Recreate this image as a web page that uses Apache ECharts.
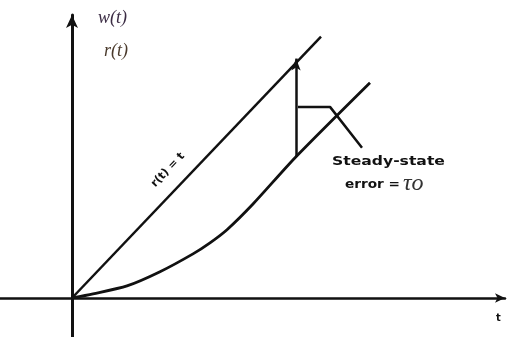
<!DOCTYPE html>
<html>
<head>
<meta charset="utf-8">
<script src="https://cdn.jsdelivr.net/npm/echarts@6/dist/echarts.min.js"></script>
<style>
  html, body { margin: 0; padding: 0; background: #fff; }
  #chart { width: 514px; height: 337px; }
</style>
</head>
<body>
<div id="chart"></div>
<script>
// ramp input r(t) = t
var rampT = [0, 4.98];
// response w(t)
var respT = [0, 0.42, 1.10, 1.76, 2.42, 2.76, 3.10, 3.62, 4.48, 5.96];
var respW = [0, 0.08, 0.23, 0.50, 0.84, 1.05, 1.30, 1.79, 2.69, 4.10];
// steady-state error marker
var errT = 4.48;
var tau0 = 1.79;
// leader line to the annotation
var leaderT = [4.52, 5.16, 5.80];
var leaderY = [3.64, 3.64, 2.86];

var chart = echarts.init(document.getElementById('chart'));

var ink = '#111';

chart.setOption({
    backgroundColor: '#fff',
    animation: false,
    grid: { left: 0, right: 9, top: 15, bottom: 0 },
    xAxis: {
        type: 'value', min: -1.44, max: 8.66,
        axisLine: { onZero: true, symbol: ['none', 'arrow'], symbolSize: [7, 10], lineStyle: { color: ink, width: 2.5 } },
        axisTick: { show: false }, axisLabel: { show: false }, splitLine: { show: false }
    },
    yAxis: {
        type: 'value', min: -0.743, max: 5.39,
        axisLine: { onZero: true, symbol: ['none', 'arrow'], symbolSize: [9, 13], lineStyle: { color: ink, width: 3 } },
        axisTick: { show: false }, axisLabel: { show: false }, splitLine: { show: false }
    },
    series: [
        {
            name: 'r(t)', type: 'line', symbol: 'none',
            data: rampT.map(function (t) { return [t, t]; }),
            lineStyle: { color: ink, width: 2.5 }
        },
        {
            name: 'w(t)', type: 'line', symbol: 'none', smooth: 0.25,
            data: respT.map(function (t, i) { return [t, respW[i]]; }),
            lineStyle: { color: ink, width: 2.8 },
            markLine: {
                silent: true, symbol: ['none', 'arrow'], symbolSize: [7, 12],
                label: { show: false },
                lineStyle: { color: ink, width: 2.5, type: 'solid' },
                data: [[{ coord: [errT, errT - tau0] }, { coord: [errT, errT + 0.08] }]]
            }
        },
        {
            name: 'leader', type: 'line', symbol: 'none',
            data: leaderT.map(function (t, i) { return [t, leaderY[i]]; }),
            lineStyle: { color: ink, width: 2.5 }
        }
    ],
    graphic: [
        { type: 'text', left: 98, top: 9, style: { text: 'w(t)', font: 'italic 18px "Liberation Serif"', fill: '#3b2c44' } },
        { type: 'text', left: 104, top: 42, style: { text: 'r(t)', font: 'italic 18px "Liberation Serif"', fill: '#4a3a2c' } },
        { type: 'text', x: 168, y: 170, rotation: 0.81, style: { text: 'r(t) = t', font: 'bold 11px "DejaVu Sans"', fill: ink, align: 'center', verticalAlign: 'middle' } },
        { type: 'text', x: 332, y: 155, scaleX: 1.2, style: { text: 'Steady-state', font: 'bold 13px "DejaVu Sans"', fill: ink } },
        { type: 'text', x: 345, y: 185, scaleX: 1.05, style: { text: 'error =', font: 'bold 13px "DejaVu Sans"', fill: ink, verticalAlign: 'middle' } },
        { type: 'text', x: 403, y: 184, style: { text: 'τo', font: 'italic 24px "Liberation Serif"', fill: '#333', verticalAlign: 'middle' } },
        { type: 'text', left: 496, top: 313, style: { text: 't', font: 'bold 10px "DejaVu Sans"', fill: ink } }
    ]
});
</script>
</body>
</html>
